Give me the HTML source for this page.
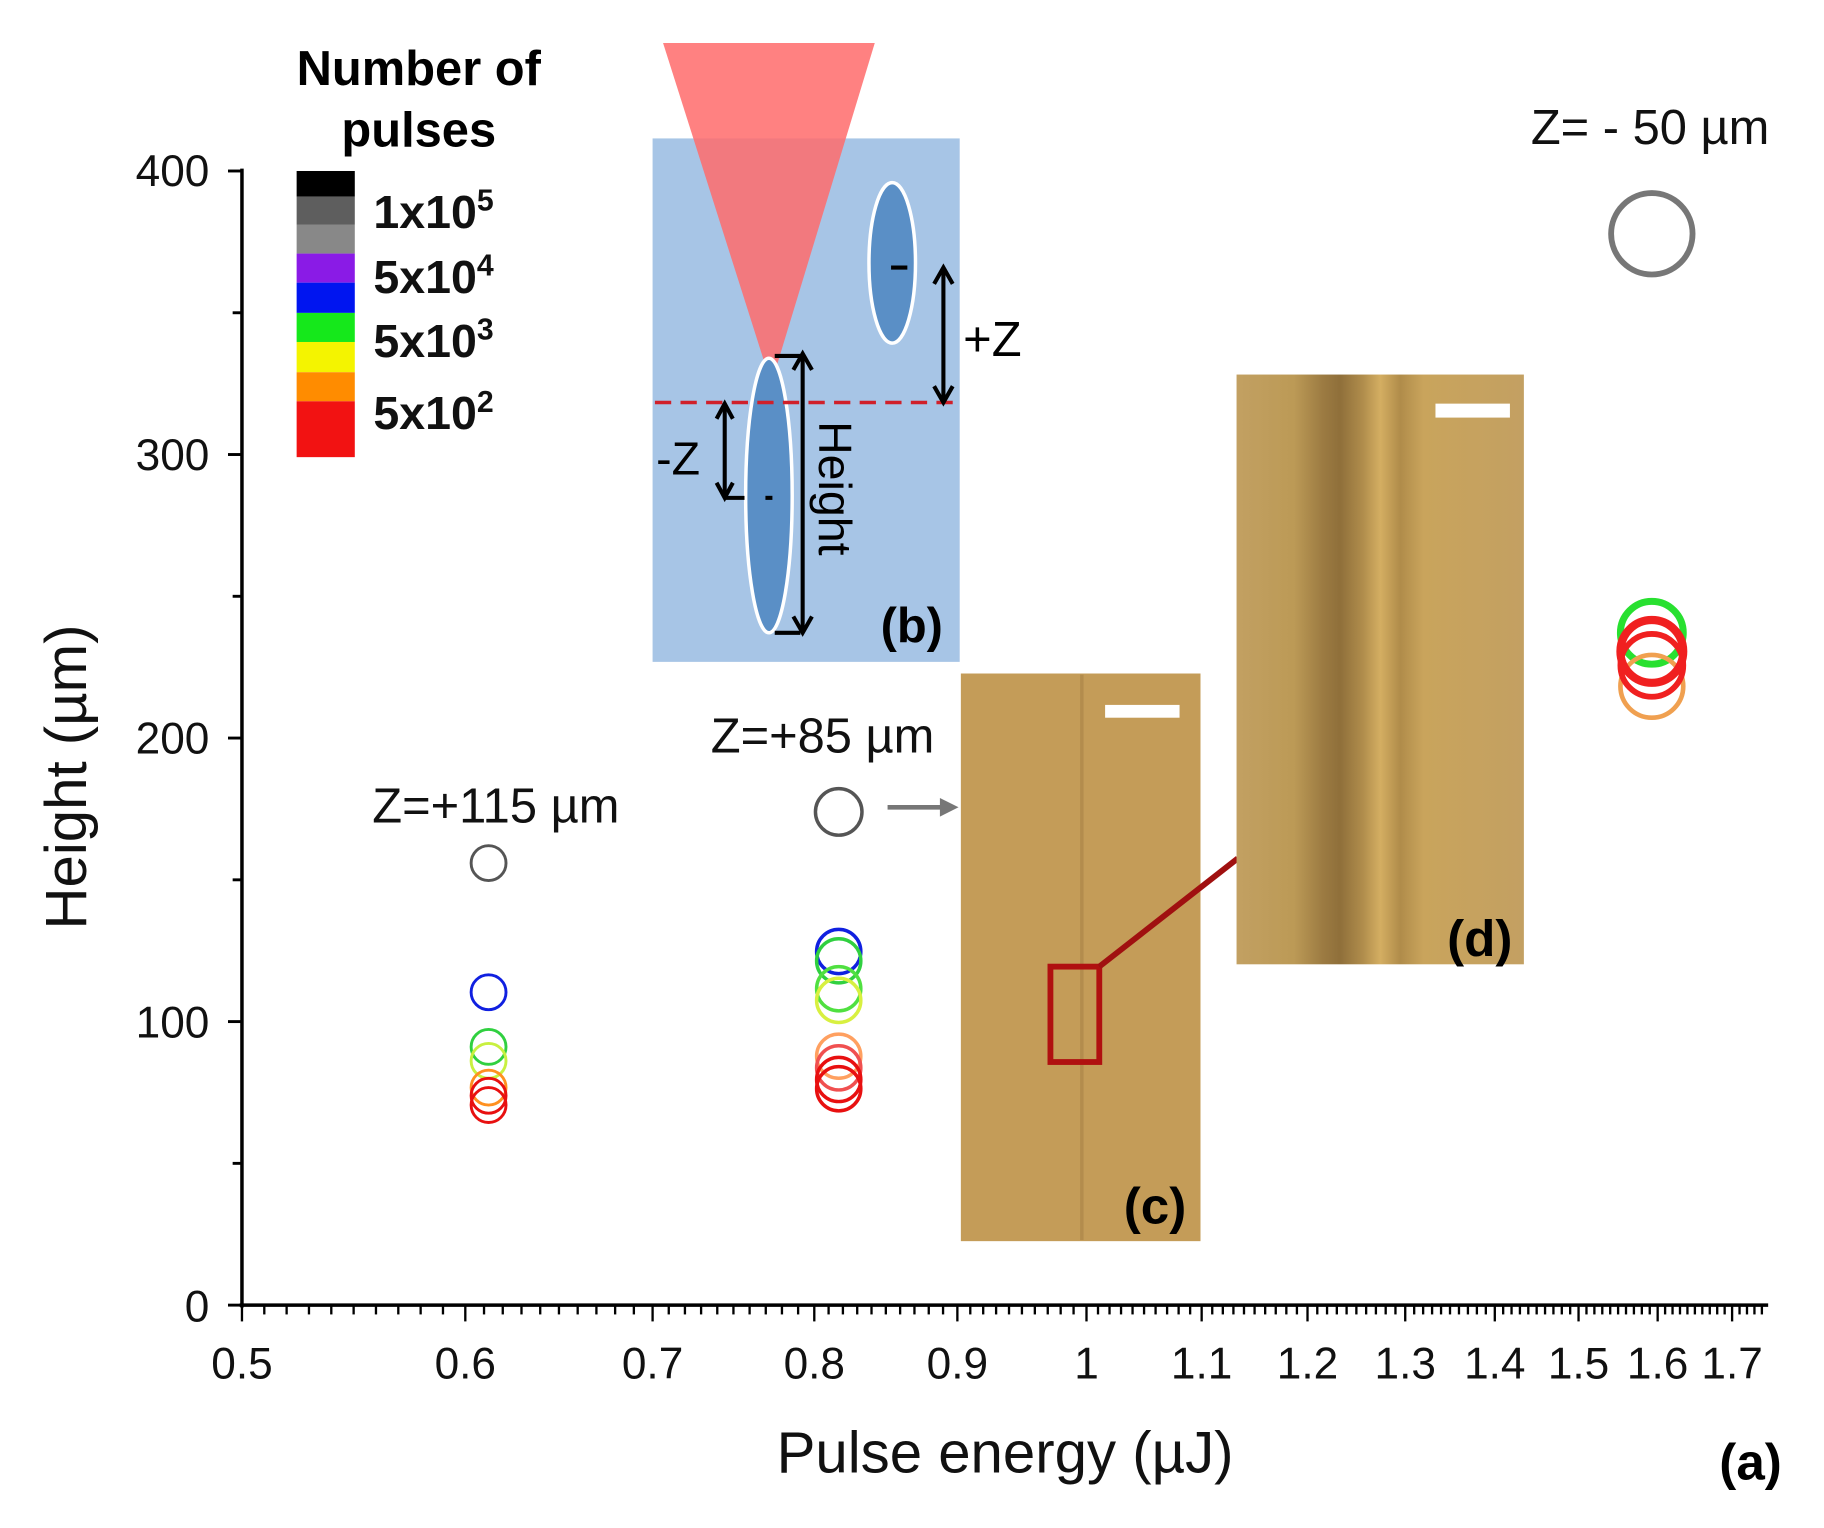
<!DOCTYPE html>
<html><head><meta charset="utf-8"><style>
html,body{margin:0;padding:0;background:#fff;}
svg{display:block;font-family:"Liberation Sans",sans-serif;}
</style></head><body>
<svg id="s" width="1824" height="1528" viewBox="0 0 1568 1313.6" preserveAspectRatio="none" xmlns="http://www.w3.org/2000/svg">
<defs>
<linearGradient id="gd" x1="0" x2="1" y1="0" y2="0">
<stop offset="0" stop-color="#c2a062"/><stop offset="0.2" stop-color="#bc9a56"/><stop offset="0.3" stop-color="#9c7b42"/><stop offset="0.36" stop-color="#8f6f3a"/><stop offset="0.44" stop-color="#b08d4c"/><stop offset="0.5" stop-color="#d4ae62"/><stop offset="0.57" stop-color="#b08c4a"/><stop offset="0.65" stop-color="#c9a45c"/><stop offset="1" stop-color="#c3a062"/>
</linearGradient>
</defs>
<rect x="561" y="119" width="264" height="450" fill="#a7c5e6"/>
<polygon points="570,37 752,37 663,330" fill="#ff6b6b" fill-opacity="0.85"/>
<ellipse cx="767" cy="226" rx="20" ry="69" fill="#5a8fc6" stroke="#fff" stroke-width="3"/>
<ellipse cx="661" cy="426" rx="20" ry="118" fill="#5a8fc6" stroke="#fff" stroke-width="3"/>
<line x1="563" y1="346" x2="825" y2="346" stroke="#d0202a" stroke-width="3" stroke-dasharray="14,8"/>
<g stroke="#000" stroke-width="3.5" fill="none">
<line x1="811" y1="232" x2="811" y2="344"/><polyline points="803,244 811,230 819,244"/><polyline points="803,332 811,346 819,332"/>
<line x1="766" y1="230" x2="780" y2="230"/>
<line x1="690" y1="306" x2="690" y2="542"/><polyline points="682,318 690,304 698,318"/><polyline points="682,530 690,544 698,530"/>
<line x1="666" y1="306" x2="688" y2="306"/><line x1="666" y1="544" x2="688" y2="544"/>
<line x1="623" y1="349" x2="623" y2="426"/><polyline points="616,360 623,347 630,360"/><polyline points="616,415 623,428 630,415"/>
<line x1="623" y1="428" x2="640" y2="428"/><line x1="658" y1="428" x2="664" y2="428"/>
</g>
<text x="828" y="306" font-size="42">+Z</text>
<text x="564" y="408" font-size="40">-Z</text>
<text transform="translate(704,362) rotate(90)" font-size="40">Height</text>
<text x="757" y="552" font-size="42" font-weight="bold">(b)</text>
<rect x="826" y="579" width="206" height="488" fill="#c49c58"/>
<line x1="930" y1="580" x2="930" y2="1066" stroke="#a88246" stroke-width="3" opacity="0.6"/>
<rect x="950" y="606" width="64" height="11" fill="#fff"/>
<rect x="903" y="831" width="42" height="82" fill="none" stroke="#b01010" stroke-width="5"/>
<line x1="945" y1="831" x2="1064" y2="738" stroke="#a01010" stroke-width="5"/>
<text x="966" y="1052" font-size="44" font-weight="bold">(c)</text>
<rect x="1063" y="322" width="247" height="507" fill="url(#gd)"/>
<rect x="1234" y="347" width="64" height="12" fill="#fff"/>
<text x="1244" y="822" font-size="44" font-weight="bold">(d)</text>
<line x1="763" y1="694" x2="810" y2="694" stroke="#777" stroke-width="4"/>
<polygon points="808,686 824,694 808,702" fill="#777"/>
<g stroke="#000" stroke-width="3">
<line x1="208" y1="145" x2="208" y2="1124"/>
<line x1="206" y1="1122" x2="1520" y2="1122"/>
</g>
<g id="yt" stroke="#000" stroke-width="2.5"></g>
<g id="xt" stroke="#000" stroke-width="2"></g>
<g font-size="38" text-anchor="end" fill="#111">
<text x="180" y="160">400</text><text x="180" y="404">300</text><text x="180" y="648">200</text><text x="180" y="892">100</text><text x="180" y="1136">0</text>
</g>
<g id="xl" font-size="38" text-anchor="middle" fill="#111"></g>
<text transform="translate(74,668) rotate(-90)" font-size="50" text-anchor="middle" fill="#111">Height (µm)</text>
<text x="864" y="1266" font-size="50" text-anchor="middle" fill="#111">Pulse energy (µJ)</text>
<text x="1478" y="1272" font-size="44" font-weight="bold">(a)</text>
<text x="360" y="73" font-size="42" font-weight="bold" text-anchor="middle">Number of</text>
<text x="360" y="126" font-size="42" font-weight="bold" text-anchor="middle">pulses</text>
<rect x="255" y="147" width="50" height="22" fill="#000"/>
<rect x="255" y="169" width="50" height="24" fill="#5e5e5e"/>
<rect x="255" y="193" width="50" height="25" fill="#888"/>
<rect x="255" y="218" width="50" height="25" fill="#8a1be6"/>
<rect x="255" y="243" width="50" height="26" fill="#0015f0"/>
<rect x="255" y="269" width="50" height="25" fill="#15e81b"/>
<rect x="255" y="294" width="50" height="26" fill="#f4f400"/>
<rect x="255" y="320" width="50" height="25" fill="#ff8c00"/>
<rect x="255" y="345" width="50" height="48" fill="#f21212"/>
<g font-size="40" font-weight="bold" fill="#111">
<text x="321" y="196">1x10<tspan font-size="26" dy="-15">5</tspan></text>
<text x="321" y="252">5x10<tspan font-size="26" dy="-15">4</tspan></text>
<text x="321" y="307">5x10<tspan font-size="26" dy="-15">3</tspan></text>
<text x="321" y="369">5x10<tspan font-size="26" dy="-15">2</tspan></text>
</g>
<g font-size="42" fill="#111">
<text x="320" y="707">Z=+115 µm</text>
<text x="611" y="647">Z=+85 µm</text>
<text x="1316" y="124">Z= - 50 µm</text>
</g>
<g fill="none" stroke-width="2.5">
<circle cx="420" cy="742" r="15" stroke="#555"/>
<circle cx="420" cy="853" r="15" stroke="#1020e0"/>
<circle cx="420" cy="900" r="15" stroke="#30d040"/>
<circle cx="420" cy="912" r="15" stroke="#c8f040"/>
<circle cx="420" cy="935" r="15" stroke="#ff9020"/>
<circle cx="420" cy="942" r="15" stroke="#e81010"/>
<circle cx="420" cy="950" r="15" stroke="#e81010"/>
<circle cx="721" cy="698" r="20" stroke="#555" stroke-width="3"/>
<circle cx="721" cy="818" r="19" stroke="#1020e0" stroke-width="3"/>
<circle cx="721" cy="826" r="19" stroke="#30d040" stroke-width="3"/>
<circle cx="721" cy="850" r="19" stroke="#50e040" stroke-width="3"/>
<circle cx="721" cy="860" r="19" stroke="#d8f040" stroke-width="3"/>
<circle cx="721" cy="908" r="19" stroke="#ffa060" stroke-width="3"/>
<circle cx="721" cy="918" r="19" stroke="#f05050" stroke-width="3"/>
<circle cx="721" cy="928" r="19" stroke="#e81010" stroke-width="3"/>
<circle cx="721" cy="936" r="19" stroke="#e81010" stroke-width="3"/>
<circle cx="1420" cy="201" r="35" stroke="#777" stroke-width="5"/>
<circle cx="1420" cy="544" r="27" stroke="#28e030" stroke-width="6"/>
<circle cx="1420" cy="590" r="27" stroke="#f0a050" stroke-width="4"/>
<circle cx="1420" cy="560" r="27" stroke="#f02020" stroke-width="7"/>
<circle cx="1420" cy="572" r="27" stroke="#f02020" stroke-width="5"/>
</g>
</svg>
<script>
var ns="http://www.w3.org/2000/svg";
function el(p,t,a){var e=document.createElementNS(ns,t);for(var k in a)e.setAttribute(k,a[k]);p.appendChild(e);return e;}
var yt=document.getElementById('yt');
for(var v=0;v<=400;v+=50){var y=1122-v*2.4375;var maj=v%100==0;el(yt,'line',{x1:maj?196:200,x2:208,y1:y,y2:y});}
var L=[[0.5,208],[0.6,400],[0.7,561],[0.8,700],[0.9,823],[1.0,934],[1.1,1033],[1.2,1124],[1.3,1208],[1.4,1285],[1.5,1357],[1.6,1425],[1.7,1489]];
function px(v){for(var i=0;i<L.length-1;i++){if(v<=L[i+1][0]+1e-9){var t=(v-L[i][0])/(L[i+1][0]-L[i][0]);return L[i][1]+t*(L[i+1][1]-L[i][1]);}}var n=L.length-1;return L[n][1]+(v-L[n][0])/0.1*(L[n][1]-L[n-1][1]);}
var xt=document.getElementById('xt');
for(var k=50;k<=175;k++){var v=k/100;var x=px(v);if(x>1518)break;var maj=k%10==0;el(xt,'line',{x1:x,x2:x,y1:1122,y2:maj?1136:1130});}
var xl=document.getElementById('xl');
var labs=['0.5','0.6','0.7','0.8','0.9','1','1.1','1.2','1.3','1.4','1.5','1.6','1.7'];
for(var i=0;i<L.length;i++){var t=el(xl,'text',{x:L[i][1],y:1185});t.textContent=labs[i];}
</script>
</body></html>
